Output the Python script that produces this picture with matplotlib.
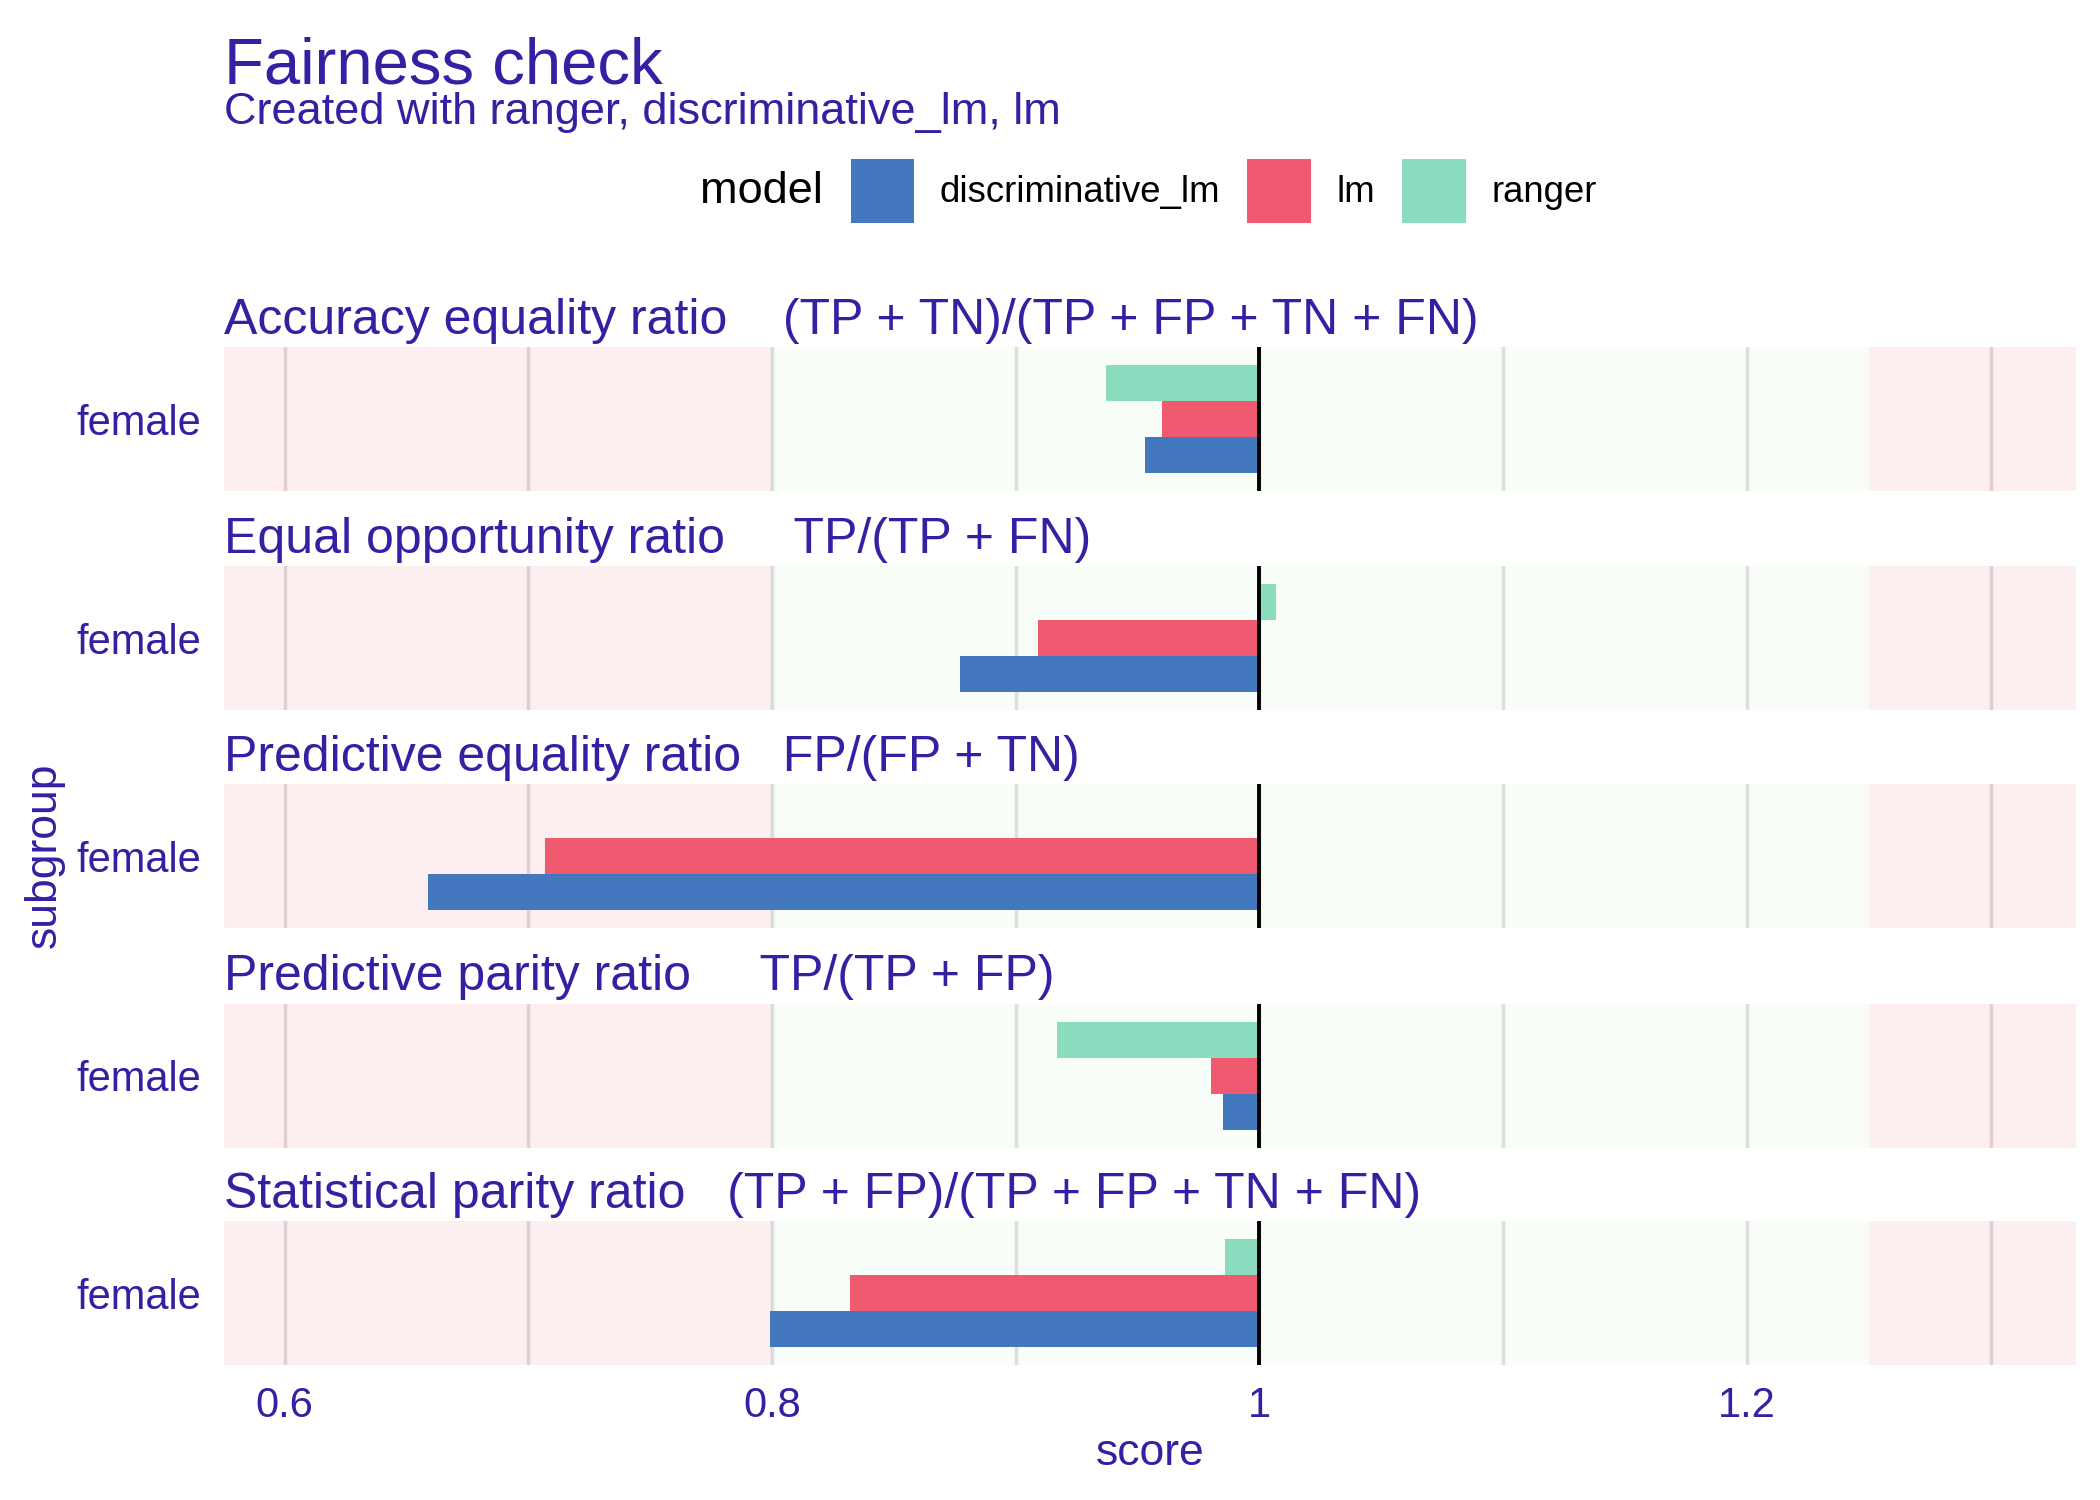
import numpy as np
import matplotlib
matplotlib.use("Agg")
import matplotlib.pyplot as plt
from matplotlib.patches import Patch

plt.rcParams['font.family'] = ['Liberation Sans', 'DejaVu Sans']

# data
metrics = ["Accuracy equality ratio", "Equal opportunity ratio",
           "Predictive equality ratio", "Predictive parity ratio",
           "Statistical parity ratio"]
formulas = ["(TP + TN)/(TP + FP + TN + FN)", "TP/(TP + FN)",
            "FP/(FP + TN)", "TP/(TP + FP)",
            "(TP + FP)/(TP + FP + TN + FN)"]
gaps = [4, 5, 3, 5, 3]
subgroup = "female"
models = ["discriminative_lm", "lm", "ranger"]
discriminative_lm = [0.953, 0.877, 0.659, 0.985, 0.799]
lm = [0.960, 0.909, 0.707, 0.980, 0.832]
ranger = [0.937, 1.007, 1.000, 0.917, 0.986]
epsilon_low, epsilon_high = 0.8, 1.25
xticks = [0.6, 0.8, 1.0, 1.2]
xticklabels = ["0.6", "0.8", "1", "1.2"]

colors = {"discriminative_lm": "#4378bf", "lm": "#f05a71", "ranger": "#8bdcbe"}
txt = "#371ea3"
xlim = (0.575, 1.335)

fig = plt.figure(figsize=(21, 15), dpi=100)

left, width = 0.1065, 0.882
bottoms = [0.6726, 0.5265, 0.3812, 0.2350, 0.0897]
height = 0.096

values = {"discriminative_lm": discriminative_lm, "lm": lm, "ranger": ranger}
offsets = {"ranger": 0.3, "lm": 0.0, "discriminative_lm": -0.3}

axes = []
for i, metric in enumerate(metrics):
    ax = fig.add_axes([left, bottoms[i], width, height])
    axes.append(ax)
    ax.set_xlim(*xlim)
    ax.set_ylim(-0.6, 0.6)
    ax.axvspan(xlim[0], epsilon_low, color="#f05a71", alpha=0.1, lw=0, zorder=1)
    ax.axvspan(epsilon_low, epsilon_high, color="#c7f5bf", alpha=0.12, lw=0, zorder=1)
    ax.axvspan(epsilon_high, xlim[1], color="#f05a71", alpha=0.1, lw=0, zorder=1)
    for g in np.arange(0.6, 1.35, 0.1):
        ax.axvline(g, color="#e0dcdf", lw=2.5, zorder=0.5)
    for m in models:
        v = values[m][i]
        ax.barh(offsets[m], v - 1, left=1, height=0.3, color=colors[m], zorder=3)
    ax.axvline(1, color="black", lw=2.8, zorder=4)
    for s in ax.spines.values():
        s.set_visible(False)
    ax.set_yticks([0])
    ax.set_yticklabels([subgroup], color=txt, fontsize=30)
    ax.tick_params(axis="y", length=0, pad=16)
    ax.set_xticks(xticks)
    ax.tick_params(axis="x", length=0)
    if i < len(metrics) - 1:
        ax.set_xticklabels([])
    else:
        ax.set_xticklabels(xticklabels, color=txt, fontsize=30)
        ax.tick_params(axis="x", pad=15)
        ax.set_xlabel("score", color=txt, fontsize=32, labelpad=5)
    ax.text(0, 1.025, metric + " " * gaps[i] + formulas[i], transform=ax.transAxes,
            ha="left", va="bottom", color=txt, fontsize=36)

fig.text(0.021, 0.43, "subgroup", rotation=90, ha="center", va="center",
         color=txt, fontsize=32)

fig.text(left, 0.9444, "Fairness check", color=txt, fontsize=47, va="baseline")
fig.text(left, 0.9175, "Created with ranger, discriminative_lm, lm", color=txt,
         fontsize=32.5, va="baseline")

handles = [Patch(facecolor=colors[m], edgecolor="none") for m in models]
fig.text(0.392, 0.8726, "model", color="black", fontsize=32.5, ha="right", va="center")
fig.legend(handles, models, loc="center left", bbox_to_anchor=(0.405, 0.8726),
           ncol=3, frameon=False, fontsize=26.3, handlelength=1.75, handleheight=2.3,
           handletextpad=0.7, columnspacing=0.73, borderpad=0, borderaxespad=0)

fig.savefig("out.png", dpi=100, facecolor="white")
